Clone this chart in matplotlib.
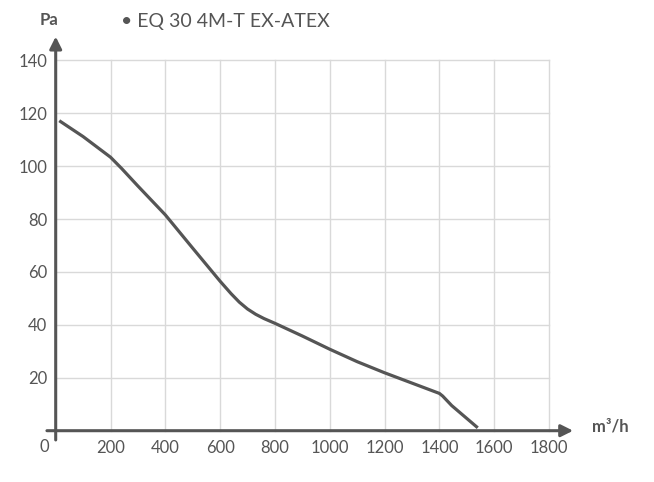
import matplotlib.pyplot as plt
import numpy as np

# Curve (air flow in m3/h, pressure in Pa)
flow = [13, 100, 200, 240, 300, 400, 500, 600, 640, 670, 700, 730, 760,
        800, 900, 1000, 1100, 1200, 1300, 1400, 1412, 1445, 1540]
pressure = [117.2, 111.2, 103.4, 99.2, 92.5, 81.6, 69.0, 56.5, 51.8, 48.6,
            46.0, 44.0, 42.4, 40.6, 35.8, 30.8, 26.1, 21.9, 18.0, 14.1,
            13.1, 9.5, 1.1]

x_ticks = [200, 400, 600, 800, 1000, 1200, 1400, 1600, 1800]
y_ticks = [20, 40, 60, 80, 100, 120, 140]
title = "\u2022 EQ 30 4M-T EX-ATEX"

dark = "#555555"
grid = "#d9d9d9"
plt.rcParams['font.family'] = ['Lato', 'DejaVu Sans']

fig = plt.figure(figsize=(6.54, 4.82), dpi=100)
W, H = 654, 482
left, right = 55.7 / W, 549 / W
bottom, top = 1 - 430.7 / H, 1 - 60.4 / H
ax = fig.add_axes([left, bottom, right - left, top - bottom])

ax.set_xlim(0, 1800)
ax.set_ylim(0, 140)
for s in ax.spines.values():
    s.set_visible(False)

# grid
for xv in x_ticks:
    ax.plot([xv, xv], [0, 140], color=grid, lw=1, zorder=1, clip_on=False)
for yv in y_ticks:
    ax.plot([0, 1800], [yv, yv], color=grid, lw=1, zorder=1, clip_on=False)

ax.set_xticks(x_ticks)
ax.set_xticklabels([str(v) for v in x_ticks])
ax.set_yticks(y_ticks)
ax.set_yticklabels([str(v) for v in y_ticks])
ax.tick_params(length=0, labelsize=12, labelcolor=dark)
ax.tick_params(axis='x', pad=7)
ax.tick_params(axis='y', pad=6)
ax.text(-40, -6.2, "0", ha='center', va='center', fontsize=12, color=dark)

# axes with arrows
ax.annotate('', xy=(1888, 0), xytext=(-32, 0),
            arrowprops=dict(arrowstyle='-|>', color=dark, lw=2.2,
                            mutation_scale=18, shrinkA=0, shrinkB=0),
            annotation_clip=False, zorder=3)
ax.annotate('', xy=(0, 149), xytext=(0, -3.5),
            arrowprops=dict(arrowstyle='-|>', color=dark, lw=2.2,
                            mutation_scale=18, shrinkA=0, shrinkB=0),
            annotation_clip=False, zorder=3)

ax.plot(flow, pressure, color=dark, lw=2.3, zorder=4,
        solid_capstyle='butt', solid_joinstyle='round')

fig.text(49 / W, 1 - 20 / H, "Pa", ha='center', va='center',
         fontsize=12, fontweight='bold', color=dark)
fig.text(610 / W, 1 - 427 / H, "m\u00b3/h", ha='center', va='center',
         fontsize=12, fontweight='bold', color=dark)
fig.text(121 / W, 1 - 21 / H, title, ha='left', va='center',
         fontsize=14, color=dark)

fig.savefig("out.png", dpi=100)
